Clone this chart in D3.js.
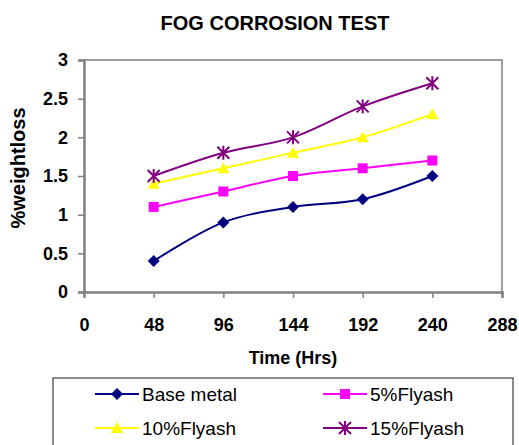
<!DOCTYPE html>
<html>
<head>
<meta charset="utf-8">
<script src="https://cdn.jsdelivr.net/npm/d3@7"></script>
<style>
  body { margin: 0; background: #fff; }
  svg { font-family: "Liberation Sans", Arial, sans-serif; }
</style>
</head>
<body>
<div id="chart"></div>
<script>
// chart data
var hours = [48, 96, 144, 192, 240];
var xTicks = [0, 48, 96, 144, 192, 240, 288];
var yTicks = [0, 0.5, 1, 1.5, 2, 2.5, 3];
var seriesNames = ["Base metal", "5%Flyash", "10%Flyash", "15%Flyash"];
var baseMetal = [0.4, 0.9, 1.1, 1.2, 1.5];
var flyash5 = [1.1, 1.3, 1.5, 1.6, 1.7];
var flyash10 = [1.4, 1.6, 1.8, 2.0, 2.3];
var flyash15 = [1.5, 1.8, 2.0, 2.4, 2.7];

var colors = ["#000080", "#ff00ff", "#ffff00", "#800080"];
var shapes = ["diamond", "square", "triangle", "star"];
var allValues = [baseMetal, flyash5, flyash10, flyash15];

var width = 519, height = 445;
var margin = {left: 84, right: 17, top: 60, bottom: 153};

var svg = d3.select("#chart").append("svg")
  .attr("width", width)
  .attr("height", height);

var x = d3.scaleLinear().domain([0, 288]).range([margin.left, width - margin.right]);
var y = d3.scaleLinear().domain([0, 3]).range([height - margin.bottom, margin.top]);

// title
svg.append("text")
  .attr("x", 275).attr("y", 30)
  .attr("text-anchor", "middle")
  .style("font-size", "20px").style("font-weight", "bold")
  .text("FOG CORROSION TEST");

// frame (top + right)
svg.append("path")
  .attr("d", "M" + x(0) + "," + y(3) + "H" + x(288) + "V" + y(0))
  .attr("fill", "none").attr("stroke", "#808080").attr("stroke-width", 1.5);

// axes
var yAxis = svg.append("g")
  .attr("transform", "translate(" + x(0) + ",0)")
  .call(d3.axisLeft(y).tickValues(yTicks).tickSize(6).tickPadding(10)
    .tickFormat(function(d) { return d; }));
var xAxis = svg.append("g")
  .attr("transform", "translate(0," + y(0) + ")")
  .call(d3.axisBottom(x).tickValues(xTicks).tickSize(6).tickPadding(20));

[xAxis, yAxis].forEach(function(a) {
  a.select(".domain").attr("stroke", "#808080").attr("stroke-width", 2.5);
  a.selectAll(".tick line").attr("stroke", "#808080").attr("stroke-width", 1.5);
  a.selectAll("text").style("font-size", "18px").style("font-weight", "bold")
    .attr("fill", "#000");
});
xAxis.selectAll(".tick").filter(function(d) { return d === 0; }).select("line").remove();

// axis titles
svg.append("text")
  .attr("x", 293).attr("y", 364)
  .attr("text-anchor", "middle")
  .style("font-size", "18px").style("font-weight", "bold")
  .text("Time (Hrs)");
svg.append("text")
  .attr("transform", "translate(25,168) rotate(-90)")
  .attr("text-anchor", "middle")
  .style("font-size", "20px").style("font-weight", "bold")
  .text("%weightloss");

// markers
function marker(g, shape, color, cx, cy) {
  if (shape === "diamond") {
    g.append("path").attr("d", "M" + cx + "," + (cy - 6) + "L" + (cx + 6) + "," + cy +
      "L" + cx + "," + (cy + 6) + "L" + (cx - 6) + "," + cy + "Z").attr("fill", color);
  } else if (shape === "square") {
    g.append("rect").attr("x", cx - 5).attr("y", cy - 5).attr("width", 10).attr("height", 10)
      .attr("fill", color);
  } else if (shape === "triangle") {
    g.append("path").attr("d", "M" + cx + "," + (cy - 6) + "L" + (cx + 6) + "," + (cy + 5) +
      "L" + (cx - 6) + "," + (cy + 5) + "Z").attr("fill", color);
  } else {
    var s = 6;
    g.append("path").attr("d", "M" + (cx - s) + "," + (cy - s) + "L" + (cx + s) + "," + (cy + s) +
      "M" + (cx + s) + "," + (cy - s) + "L" + (cx - s) + "," + (cy + s) +
      "M" + cx + "," + (cy - s - 1) + "V" + (cy + s + 1))
      .attr("stroke", color).attr("stroke-width", 2).attr("fill", "none");
  }
}

var line = d3.line()
  .x(function(d, i) { return x(hours[i]); })
  .y(function(d) { return y(d); })
  .curve(d3.curveCatmullRom.alpha(0.5));

allValues.forEach(function(vals, k) {
  var g = svg.append("g");
  g.append("path").datum(vals).attr("d", line)
    .attr("fill", "none").attr("stroke", colors[k]).attr("stroke-width", 2);
  vals.forEach(function(v, i) { marker(g, shapes[k], colors[k], x(hours[i]), y(v)); });
});

// legend
svg.append("rect")
  .attr("x", 53).attr("y", 378).attr("width", 460).attr("height", 80)
  .attr("fill", "#fff").attr("stroke", "#404040").attr("stroke-width", 1.2);

var legPos = [[95, 394], [323, 394], [95, 428], [323, 428]];
seriesNames.forEach(function(name, k) {
  var lx = legPos[k][0], ly = legPos[k][1];
  var g = svg.append("g");
  g.append("line").attr("x1", lx).attr("x2", lx + 44).attr("y1", ly).attr("y2", ly)
    .attr("stroke", colors[k]).attr("stroke-width", 2);
  marker(g, shapes[k], colors[k], lx + 22, ly);
  g.append("text").attr("x", lx + 47).attr("y", ly + 7)
    .style("font-size", "19px").text(name);
});
</script>
</body>
</html>
